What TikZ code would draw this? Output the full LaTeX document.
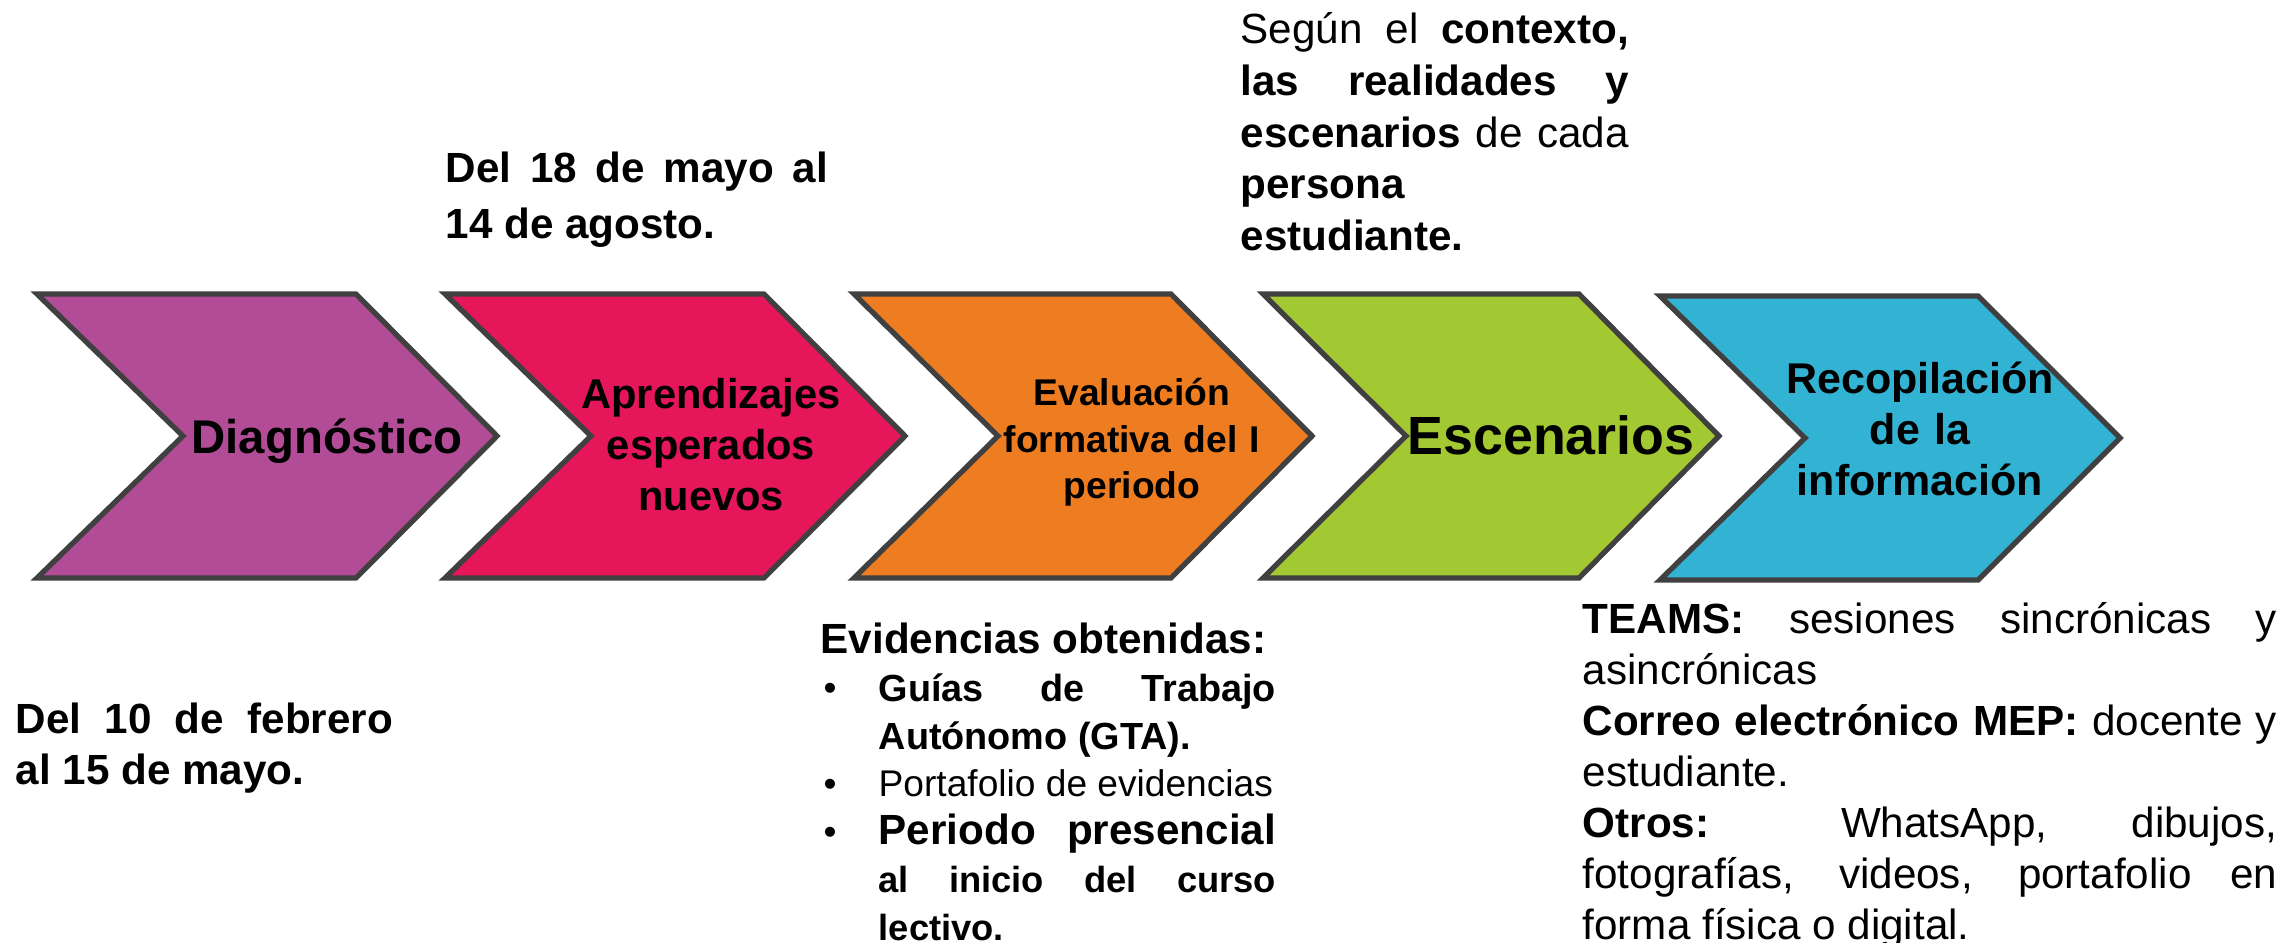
\documentclass[tikz,border=0pt]{standalone}
\usepackage{fontspec}
\setmainfont{Liberation Sans}
\usepackage{xcolor}
\usepackage{tikz}

\definecolor{chevpurple}{HTML}{B24C96}
\definecolor{chevred}{HTML}{E5175A}
\definecolor{chevorange}{HTML}{EE7D21}
\definecolor{chevgreen}{HTML}{A2C931}
\definecolor{chevblue}{HTML}{33B3D4}
\definecolor{chevline}{HTML}{404040}
\newcommand{\fsz}[2]{\fontsize{#1}{#2}\selectfont}
\hyphenpenalty=10000
\exhyphenpenalty=10000

\begin{document}
\begin{tikzpicture}[x=0.01cm, y=-0.01cm,
        chev/.style={draw=chevline, line width=1.5pt},
        inchev/.style={inner sep=0pt, align=center},
        para/.style={inner sep=0pt, anchor=north west, align=justify}]
    \useasboundingbox (0,0) rectangle (2282,943);

    \draw[chev, fill=chevpurple] (37,294) -- (356,294) -- (497,436) -- (356,578) -- (37,578) -- (183,436) -- cycle; % Diagnóstico
    \draw[chev, fill=chevred] (445,294) -- (764,294) -- (905,436) -- (764,578) -- (445,578) -- (591,436) -- cycle; % Aprendizajes
    \draw[chev, fill=chevorange] (854,294) -- (1171,294) -- (1312,436) -- (1171,578) -- (854,578) -- (998,436) -- cycle; % Evaluación
    \draw[chev, fill=chevgreen] (1263,294) -- (1579,294) -- (1719,436) -- (1579,578) -- (1263,578) -- (1406,436) -- cycle; % Escenarios
    \draw[chev, fill=chevblue] (1660,296) -- (1978,296) -- (2120,438) -- (1978,580) -- (1660,580) -- (1805,438) -- cycle; % Recopilación

    % texts inside the chevrons
    \node[inchev, anchor=base, font=\fsz{13.46}{16}\bfseries] (diag) at (327,453) {Diagnóstico};
    \node[inchev, anchor=north, text width=3.2cm, font=\fsz{11.84}{14.51}\bfseries] (aprend) at (711,372.3) {\strut Aprendizajes\\ esperados\\ nuevos};
    \node[inchev, anchor=north, text width=3cm, font=\fsz{10.58}{13.1}\bfseries] (evalua) at (1132,373) {\strut Evaluación\\ formativa del I\\ periodo};
    \node[inchev, anchor=base, font=\fsz{15.3}{18}\bfseries] (escen) at (1551,455) {Escenarios};
    \node[inchev, anchor=north, text width=3cm, font=\fsz{12.23}{14.51}\bfseries] (recop) at (1920,357.3) {\strut Recopilación\\ de la\\ información};

    % dates
    \node[para, text width=3.82cm, font=\fsz{12}{15.9}\bfseries] (fecha2) at (445,142.9) {\strut Del 18 de mayo al\linebreak 14 de agosto.};
    \node[para, text width=3.77cm, font=\fsz{12}{14.5}\bfseries] (fecha1) at (15,697.3) {\strut Del 10 de febrero\linebreak al 15 de mayo.};

    % escenarios
    \node[para, text width=3.88cm, font=\fsz{12}{14.7}] (segun) at (1240,6.8) {\strut Según el \textbf{contexto,}\linebreak \textbf{las realidades y}\linebreak \textbf{escenarios} de cada\linebreak \textbf{persona}\\ \textbf{estudiante.}};

    % evidencias
    \node[inner sep=0pt, anchor=base west, font=\fsz{12}{14}\bfseries] (evid) at (820,653) {Evidencias obtenidas:};
    \node[inner sep=0pt, anchor=base, font=\fsz{10.5}{13}] (bul1) at (830,700.8) {•};
    \node[inner sep=0pt, anchor=base, font=\fsz{10.5}{13}] (bul2) at (830,796.4) {•};
    \node[inner sep=0pt, anchor=base, font=\fsz{10.5}{13}] (bul3) at (830,844.2) {•};
    \node[para, text width=3.97cm, font=\fsz{10.75}{13.6}\bfseries] (guias) at (878,667.3) {\strut Guías de Trabajo\linebreak Autónomo (GTA).};
    \node[inner sep=0pt, anchor=base west, font=\fsz{10.56}{13}] (portaf) at (878,796.4) {Portafolio de evidencias};
    \node[para, text width=3.97cm, font=\fsz{12}{13.6}\bfseries] (period) at (878,810.7) {\strut Periodo presencial\linebreak {\fsz{10.33}{13.6}al inicio del curso\linebreak lectivo.}};

    % recopilación
    \node[para, text width=6.94cm, font=\fsz{12}{14.5}] (teams) at (1582,597.3) {\strut \textbf{TEAMS:} sesiones sincrónicas y\linebreak asincrónicas\\ \textbf{Correo electrónico MEP:} docente y\linebreak estudiante.\\ \textbf{Otros:} WhatsApp, dibujos,\linebreak fotografías, videos, portafolio en\linebreak forma física o digital.};
\end{tikzpicture}
\end{document}
